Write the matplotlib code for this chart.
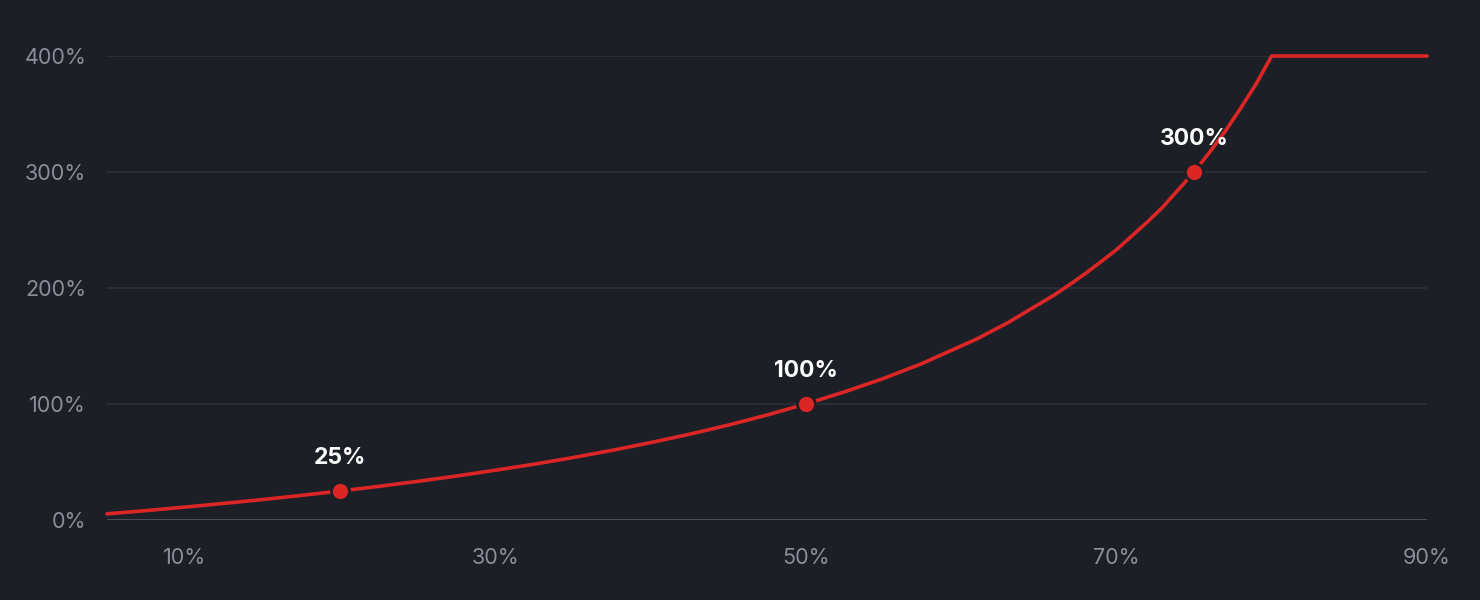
import matplotlib.pyplot as plt

# colours
bg = '#1d1f27'
red = '#dc2626'
grid_col = '#2a2d36'
base_col = '#4a4d58'
tick_col = '#8b8e98'

# curve (x and y in percent)
x_vals = [5, 7.5, 10, 12.5, 15, 17.5, 20, 22.5, 25, 27.5, 30, 32.5, 35, 37.5,
          40, 42.5, 45, 47.5, 50, 52.5, 55, 57.5, 60, 61, 62, 63, 64, 65,
          66, 67, 68, 69, 70, 71, 72, 73, 74, 75, 76, 77, 78, 79, 80, 90]
y_vals = [5.3, 8.1, 11.1, 14.3, 17.6, 21.2, 25, 29, 33.3, 37.9, 42.9, 48.1,
          53.8, 60, 66.7, 73.9, 81.8, 90.5, 100, 110.5, 122, 135, 150, 156,
          163, 170, 178, 186, 194, 203, 212.5, 222.6, 233, 245, 257, 270,
          285, 300, 317, 335, 355, 376, 400, 400]

# highlighted points
mark_x = [20, 50, 75]
mark_y = [25, 100, 300]
mark_labels = ['25%', '100%', '300%']

x_ticks = [10, 30, 50, 70, 90]
y_ticks = [0, 100, 200, 300, 400]

plt.rcParams['font.family'] = ['Inter', 'DejaVu Sans']

fig = plt.figure(figsize=(14.8, 6), dpi=100, facecolor=bg)
ax = fig.add_axes([107/1480, 80/600, 1320/1480, 464/600])
ax.set_facecolor(bg)

for y in y_ticks[1:]:
    ax.axhline(y, color=grid_col, lw=1.5, zorder=0)
ax.axhline(0, color=base_col, lw=1.5, zorder=1)

ax.plot(x_vals, y_vals, color=red, lw=2.6, solid_capstyle='round',
        solid_joinstyle='round', clip_on=False, zorder=3)
ax.plot(mark_x, mark_y, 'o', color=red, ms=13, mec=bg, mew=2,
        clip_on=False, zorder=4)
for mx, my, lab in zip(mark_x, mark_y, mark_labels):
    ax.annotate(lab, (mx, my), xytext=(0, 24), textcoords='offset points',
                ha='center', va='center', color='white', fontsize=16.5,
                fontweight='bold')

ax.set_xlim(5, 90)
ax.set_ylim(0, 400)
ax.set_xticks(x_ticks)
ax.set_xticklabels([f'{t}%' for t in x_ticks])
ax.set_yticks(y_ticks)
ax.set_yticklabels([f'{t}%' for t in y_ticks])
ax.tick_params(length=0, colors=tick_col, labelsize=15.5)
ax.tick_params(axis='x', pad=20)
ax.tick_params(axis='y', pad=15)
for s in ax.spines.values():
    s.set_visible(False)

fig.savefig('out.png', dpi=100, facecolor=bg)
